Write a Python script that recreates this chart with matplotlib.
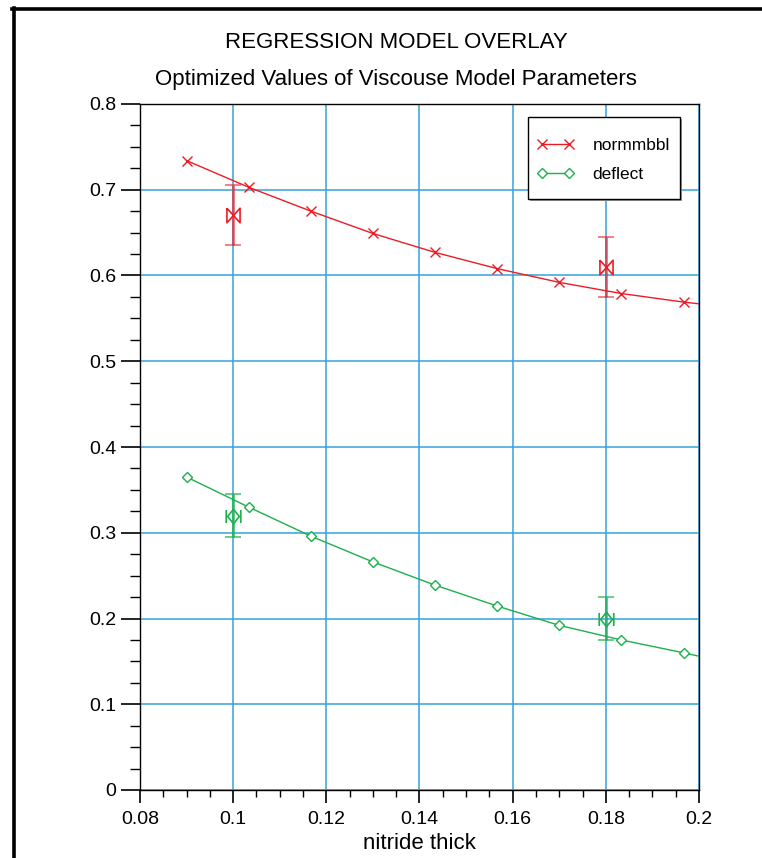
import matplotlib
matplotlib.use("Agg")
import matplotlib.pyplot as plt
from matplotlib.path import Path
from matplotlib.ticker import MultipleLocator, FuncFormatter
from matplotlib.lines import Line2D
from matplotlib.patches import Rectangle

plt.rcParams['font.family'] = ['Liberation Sans', 'DejaVu Sans']

# ---- data ----
model_x = [0.09, 0.1033, 0.1167, 0.13, 0.1433, 0.1567, 0.17, 0.1833, 0.1967, 0.2]
normmbbl_model = [0.734, 0.703, 0.675, 0.649, 0.627, 0.608, 0.592, 0.579, 0.569, 0.567]
deflect_model = [0.365, 0.330, 0.296, 0.266, 0.239, 0.2145, 0.192, 0.175, 0.160, 0.156]
n_marked = 9

obs_x = [0.1, 0.18]
normmbbl_obs = [0.67, 0.61]
normmbbl_err = [0.035, 0.035]
deflect_obs = [0.32, 0.20]
deflect_err = [0.025, 0.025]

title = "REGRESSION MODEL OVERLAY"
subtitle = "Optimized Values of Viscouse Model Parameters"
xlabel = "nitride thick"

RED = '#ec1c24'
GREEN = '#1db04c'
GRID = '#34a3da'

W, H = 762, 858
fig = plt.figure(figsize=(W / 100, H / 100), dpi=100)
ax = fig.add_axes([140 / W, 1 - 790 / H, (699 - 140) / W, (790 - 104) / H])

# custom markers
bowtie = Path([(-0.9, 1), (-0.9, -1), (0.9, 1), (0.9, -1), (-0.9, 1)],
              [Path.MOVETO, Path.LINETO, Path.LINETO, Path.LINETO, Path.LINETO])
diabar = Path([(0, 1), (0.8, 0), (0, -1), (-0.8, 0), (0, 1),
               (-1, 0.9), (-1, -0.9), (1, 0.9), (1, -0.9)],
              [Path.MOVETO, Path.LINETO, Path.LINETO, Path.LINETO, Path.LINETO,
               Path.MOVETO, Path.LINETO, Path.MOVETO, Path.LINETO])

ax.grid(True, color=GRID, lw=1.1, zorder=0)
ax.set_axisbelow(True)

l1, = ax.plot(model_x, normmbbl_model, color=RED, lw=1.0, marker='x', ms=7.5, mew=1.0,
              markevery=list(range(n_marked)), label='normmbbl', zorder=3)
l2, = ax.plot(model_x, deflect_model, color=GREEN, lw=1.0, marker='D', ms=5.5, mew=1.0,
              mfc='white', markevery=list(range(n_marked)), label='deflect', zorder=3)

ax.errorbar(obs_x, normmbbl_obs, yerr=normmbbl_err, fmt='none', ecolor=RED,
            elinewidth=2.0, capsize=5.5, capthick=1.2, alpha=0.65, zorder=2)
ax.plot(obs_x, normmbbl_obs, ls='none', marker=bowtie, ms=10.5, mew=1.2, mfc='none',
        mec=RED, zorder=4)
ax.errorbar(obs_x, deflect_obs, yerr=deflect_err, fmt='none', ecolor=GREEN,
            elinewidth=2.0, capsize=5.5, capthick=1.2, alpha=0.75, zorder=2)
ax.plot(obs_x, deflect_obs, ls='none', marker=diabar, ms=10.5, mew=1.2, mfc='none',
        mec=GREEN, zorder=4)

ax.set_xlim(0.08, 0.2)
ax.set_ylim(0, 0.8)
ax.xaxis.set_major_locator(MultipleLocator(0.02))
ax.xaxis.set_minor_locator(MultipleLocator(0.005))
ax.yaxis.set_major_locator(MultipleLocator(0.1))
ax.yaxis.set_minor_locator(MultipleLocator(0.025))
fmt = FuncFormatter(lambda v, p: ('%.10g' % round(v, 6)))
ax.xaxis.set_major_formatter(fmt)
ax.yaxis.set_major_formatter(fmt)
ax.tick_params(axis='both', which='major', direction='out', labelsize=14,
               color='black', width=1.2)
ax.tick_params(axis='y', which='major', length=14, pad=3)
ax.tick_params(axis='x', which='major', length=9.5, pad=5.5)
ax.tick_params(axis='y', which='minor', direction='out', length=7.5, width=1.0)
ax.tick_params(axis='x', which='minor', direction='out', length=5, width=1.0)
for s in ax.spines.values():
    s.set_color('black')
    s.set_linewidth(1.0)

ax.set_xlabel(xlabel, fontsize=16, labelpad=4)

fig.text(396 / W, 1 - 42 / H, title, ha='center', va='center', fontsize=16)
fig.text(396 / W, 1 - 80 / H, subtitle, ha='center', va='center', fontsize=16)

# legend box (frame drawn separately to match the padding)
bx0, by0, bx1, by1 = 528, 117, 680, 199
shadow = Rectangle((bx0 / W + 2 / W, 1 - by1 / H - 2 / H), (bx1 - bx0) / W, (by1 - by0) / H,
                   transform=fig.transFigure, facecolor='0.6', edgecolor='none', zorder=5)
box = Rectangle((bx0 / W, 1 - by1 / H), (bx1 - bx0) / W, (by1 - by0) / H,
                transform=fig.transFigure, facecolor='white', edgecolor='black',
                lw=1.0, zorder=6)
fig.add_artist(shadow)
fig.add_artist(box)
leg = fig.legend(handles=[l1, l2], loc='upper left', bbox_to_anchor=(537 / W, 1 - 138 / H),
                 fontsize=12.5, numpoints=2, handlelength=2.15, frameon=False,
                 borderpad=0, labelspacing=0.78, handletextpad=1.05, borderaxespad=0)
leg.set_zorder(7)

# outer frame
fig.add_artist(Line2D([12 / W, 1], [1 - 9 / H, 1 - 9 / H], color='black', lw=2.6,
                      transform=fig.transFigure))
fig.add_artist(Line2D([14 / W, 14 / W], [0, 1 - 8 / H], color='black', lw=2.6,
                      transform=fig.transFigure))

fig.savefig('out.png', dpi=100)
